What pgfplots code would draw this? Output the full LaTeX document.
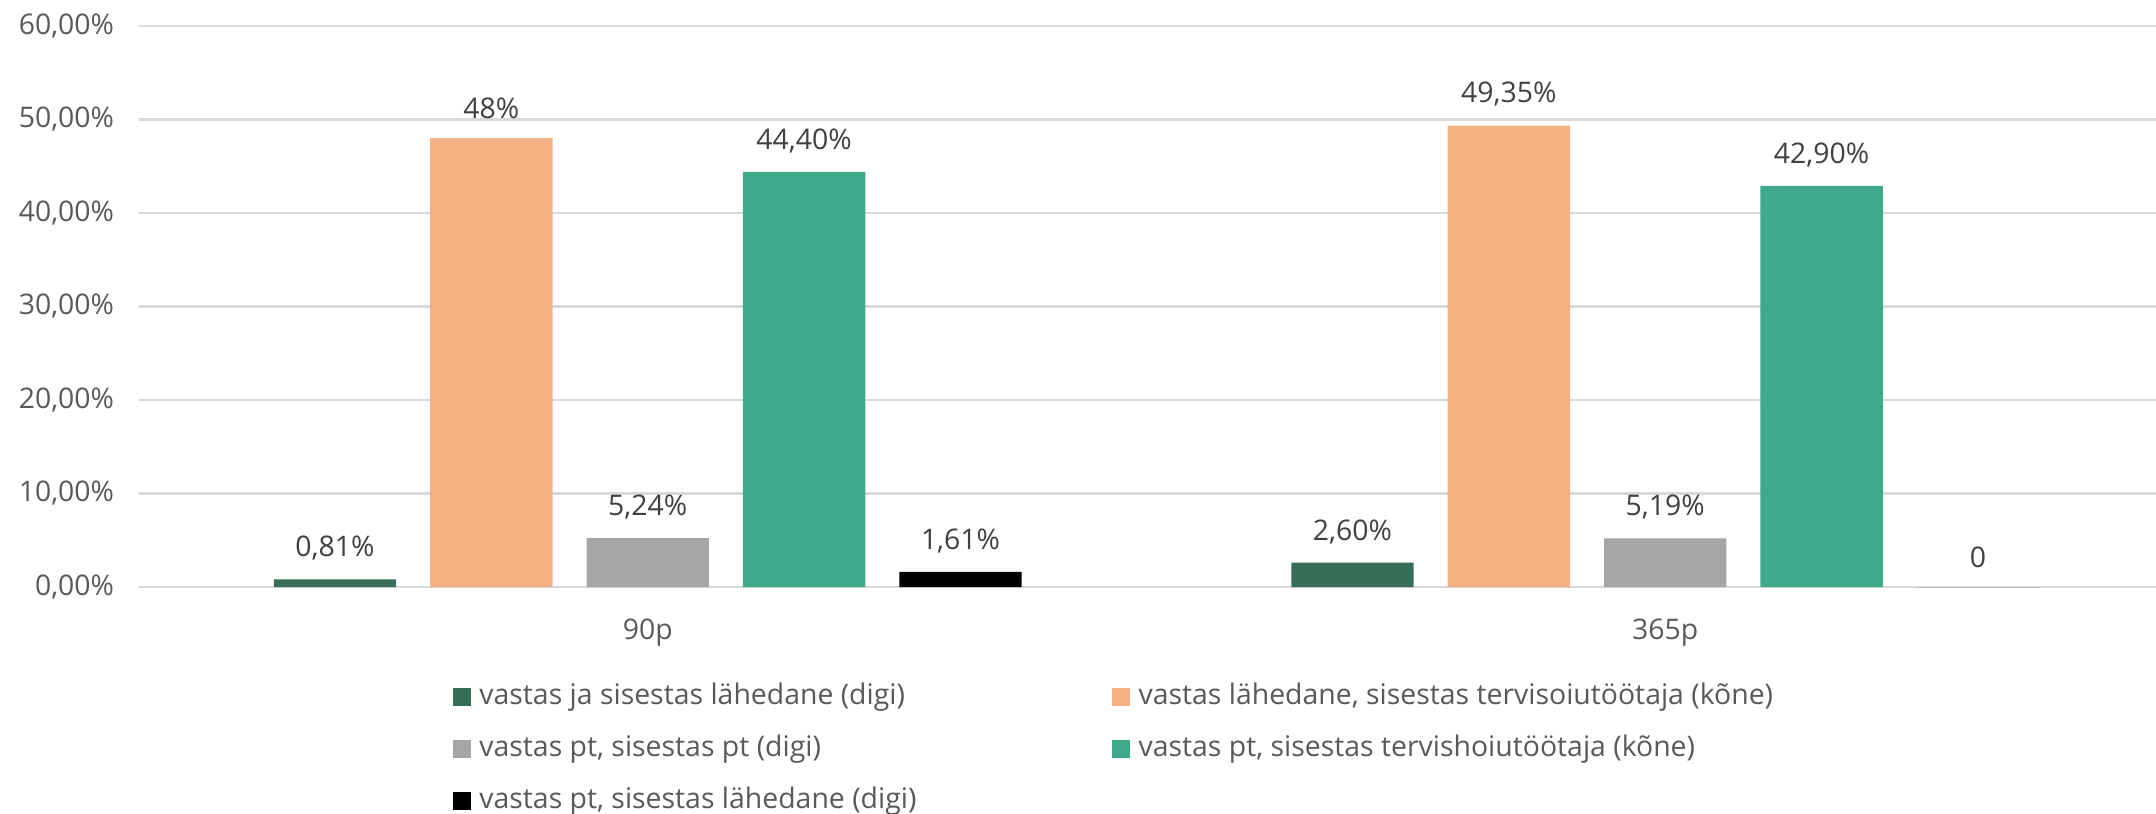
\documentclass[border=0pt]{standalone}
\usepackage{pgfplots}
\pgfplotsset{compat=1.18}
\usepackage{fontspec}
\setmainfont{Open Sans}
\definecolor{cA}{HTML}{357056}
\definecolor{cB}{HTML}{F4B183}
\definecolor{cC}{HTML}{A5A5A5}
\definecolor{cD}{HTML}{3FA98A}
\definecolor{cE}{HTML}{000000}
\definecolor{gridc}{HTML}{D9D9D9}
\definecolor{tickc}{HTML}{595959}
\definecolor{labc}{HTML}{404040}
\newcommand{\fs}{\fontsize{7.1}{8.5}\selectfont}
\pgfplotsset{
  sq/.style={legend image code/.code={\fill[##1,draw=none] (0pt,-2.25pt) rectangle (4.5pt,2.25pt);}},
}
\begin{document}
\begin{tikzpicture}
\begin{axis}[
  name=ax,
  scale only axis,
  width=508.75pt, height=140.25pt,
  xmin=-0.5, xmax=1.5, ymin=0, ymax=60,
  ybar, bar width=0.1203,
  xtick={0,1}, xticklabels={90p,365p},
  ytick={0,10,...,60},
  yticklabel={\pgfmathprintnumber[fixed,fixed zerofill,precision=2,use comma]{\tick}\%},
  /pgf/number format/assume math mode=true,
  ymajorgrids, grid style={gridc, line width=0.55pt},
  axis line style={draw=none},
  tick style={draw=none},
  ticklabel style={font=\fs, text=tickc},
  yticklabel style={xshift=-2.7pt},
  xticklabel style={yshift=-0.2pt},
  clip=false,
  nodes near coords,
  point meta=explicit symbolic,
  every node near coord/.append style={font=\fs, text=labc, anchor=south, yshift=1.2pt},
  legend columns=2,
  legend style={at={(0.1543,-0.171)}, anchor=north west, draw=none, fill=none,
    inner sep=0pt, outer sep=0pt, row sep=6.2pt,
    nodes={font=\fs, text=tickc, inner sep=0pt, text height=5.4pt, text depth=1.4pt}},
  legend cell align=left,
]
\addplot[fill=cA, draw=none, bar shift=-0.3074, sq] coordinates {(0,0.81) [0,81\%] (1,2.60) [2,60\%]};
\addplot[fill=cB, draw=none, bar shift=-0.1537, sq] coordinates {(0,48.0) [48\%] (1,49.35) [49,35\%]};
\addplot[fill=cC, draw=none, bar shift=0, sq] coordinates {(0,5.24) [5,24\%] (1,5.19) [5,19\%]};
\addplot[fill=cD, draw=none, bar shift=0.1537, sq] coordinates {(0,44.40) [44,40\%] (1,42.90) [42,90\%]};
\addplot[fill=cE, draw=none, bar shift=0.3074, sq] coordinates {(0,1.61) [1,61\%] (1,0) [0]};
\legend{{\makebox[160.3pt][l]{\hspace*{2.1pt}vastas ja sisestas lähedane (digi)}},
  {\hspace*{2.1pt}vastas lähedane, sisestas tervisoiutöötaja (kõne)},
  {\makebox[160.3pt][l]{\hspace*{2.1pt}vastas pt, sisestas pt (digi)}},
  {\hspace*{2.1pt}vastas pt, sisestas tervishoiutöötaja (kõne)},
  {\makebox[160.3pt][l]{\hspace*{2.1pt}vastas pt, sisestas lähedane (digi)}}}
\end{axis}
\pgfresetboundingbox
\path ([shift={(-34.75pt,-56.75pt)}]ax.south west) rectangle ([shift={(-4.5pt,6.5pt)}]ax.north east);
\end{tikzpicture}
\end{document}
